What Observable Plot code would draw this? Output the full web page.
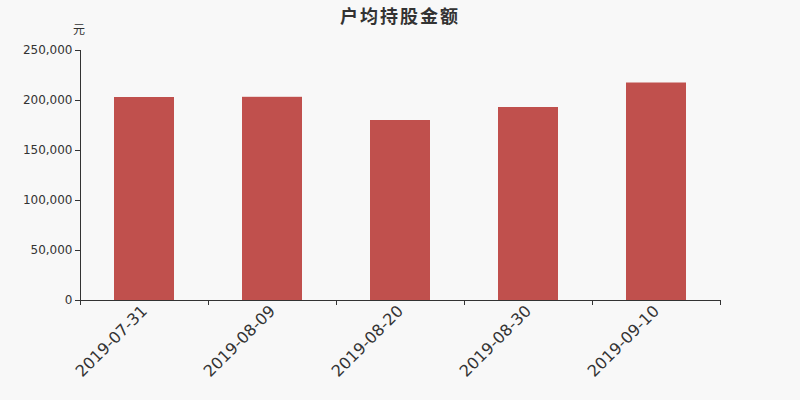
<!DOCTYPE html>
<html>
<head>
<meta charset="utf-8">
<script src="https://cdn.jsdelivr.net/npm/d3@7"></script>
<script src="https://cdn.jsdelivr.net/npm/@observablehq/plot@0.6"></script>
<style>
  html, body { margin: 0; padding: 0; background: #f8f8f8; }
  #wrap { position: relative; width: 800px; height: 400px; background: #f8f8f8; font-family: "DejaVu Sans", sans-serif; }
  #title { position: absolute; left: 0; top: 2px; width: 800px; text-align: center; font-size: 18px; font-weight: bold; color: #333; letter-spacing: 2px; font-family: "Noto Sans CJK SC", "DejaVu Sans", sans-serif; }
  #unit { position: absolute; left: 73px; top: 20px; font-size: 12px; color: #333; font-family: "Noto Sans CJK SC", "DejaVu Sans", sans-serif; }
</style>
</head>
<body>
<div id="wrap">
  <div id="chart"></div>
  <div id="title">户均持股金额</div>
  <div id="unit">元</div>
</div>
<script>
const dates = ["2019-07-31", "2019-08-09", "2019-08-20", "2019-08-30", "2019-09-10"];
const values = [203000, 203200, 180000, 193000, 217500];
const yTicks = [0, 50000, 100000, 150000, 200000, 250000];

const data = dates.map((d, i) => ({date: d, value: values[i]}));
const lastDate = [dates[dates.length - 1]];

const chart = Plot.plot({
  width: 800,
  height: 400,
  marginLeft: 80,
  marginRight: 80,
  marginTop: 50,
  marginBottom: 100,
  style: {background: "#f8f8f8", fontFamily: "DejaVu Sans, sans-serif", color: "#333"},
  x: {domain: dates, paddingInner: 0.53, paddingOuter: 0.265, label: null},
  y: {domain: [0, 250000], label: null},
  marks: [
    Plot.barY(data, {x: "date", y: "value", fill: "#c0504d"}),
    Plot.axisY({ticks: yTicks, tickFormat: d3.format(","), tickSize: 5, tickPadding: 3, fontSize: 12, stroke: "#333", fill: "#333", label: null}),
    Plot.axisX({tickSize: 0, tickRotate: -45, tickPadding: 8, fontSize: 16, fill: "#333", label: null}),
    Plot.frame({anchor: "left", stroke: "#333"}),
    Plot.ruleY([0], {stroke: "#333"}),
    Plot.ruleX(dates, {x: d => d, dx: -64, y1: d => 0, y2: d => 0, insetBottom: -5, stroke: "#333"}),
    Plot.ruleX(lastDate, {x: d => d, dx: 64, y1: d => 0, y2: d => 0, insetBottom: -5, stroke: "#333"})
  ]
});
document.getElementById("chart").appendChild(chart);
</script>
</body>
</html>
